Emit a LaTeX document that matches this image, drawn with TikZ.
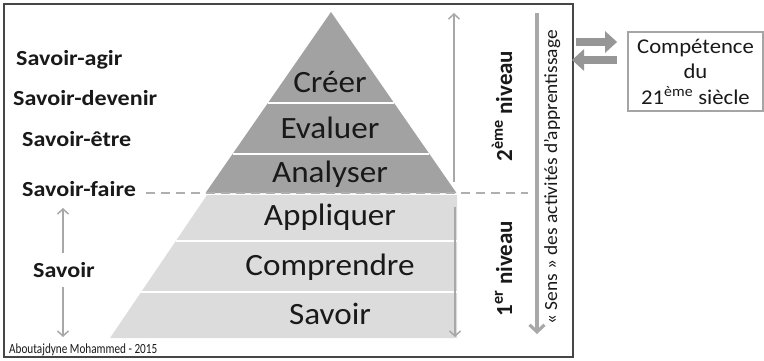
\documentclass[tikz,border=0pt]{standalone}
\usepackage{fontspec}
\setmainfont{Carlito}
\newfontfamily\pyrfont{Carlito}[FakeStretch=1.07]
\newfontfamily\lblfont{Carlito}[FakeStretch=1.12]
\newfontfamily\boxfont{Carlito}[FakeStretch=1.08]
\newfontfamily\sensfont{Carlito}[FakeStretch=1.05]
\newfontfamily\signfont{Carlito}[FakeStretch=0.8]
\usetikzlibrary{arrows.meta,calc}

\definecolor{upperfill}{RGB}{162,162,162}
\definecolor{lowerfill}{RGB}{220,220,220}
\definecolor{arrowgray}{RGB}{168,168,168}
\definecolor{fatgray}{RGB}{150,150,150}
\definecolor{framegray}{RGB}{70,70,70}
\definecolor{boxgray}{RGB}{165,165,165}
\definecolor{dashgray}{RGB}{175,175,175}
\definecolor{ink}{RGB}{25,25,25}

\tikzset{
  level/.style={font=\pyrfont\fontsize{31}{31}\selectfont, text=ink, anchor=base, inner sep=0pt},
  skill/.style={font=\lblfont\bfseries\fontsize{21.5}{21.5}\selectfont, text=ink, anchor=base west, inner sep=0pt},
  tier/.style={font=\bfseries\fontsize{23}{23}\selectfont, text=ink, rotate=90, anchor=base, inner sep=0pt},
  thinarrow/.style={draw=arrowgray, line width=1.5pt, -{Straight Barb[length=5pt,width=11pt]}},
  sensarrow/.style={draw=arrowgray, line width=3.2pt, -{Straight Barb[length=7pt,width=15pt]}},
  fatarrow/.style={draw=fatgray, line width=8.5pt, -{Triangle[width=21pt,length=12pt]}},
  sepline/.style={draw=white, line width=2pt},
  dashline/.style={draw=dashgray, line width=2pt, dash pattern=on 9pt off 6pt}
}

\begin{document}
\begin{tikzpicture}[x=1pt,y=-1pt]
\useasboundingbox (0,0) rectangle (764,360);

% outer frame
\node[draw=framegray, line width=2pt, minimum width=569pt, minimum height=353pt, inner sep=0pt] (frame) at (288.5,180.5) {};

% pyramid: upper (second level) and lower (first level) parts
\fill[upperfill] (331,12) -- (456.5,193) -- (205.5,193) -- cycle;
\draw[sepline] (268.2,103) -- (393.8,103);
\draw[sepline] (233.0,154) -- (429.0,154);
\fill[lowerfill] (207,195) -- (457,195) -- (457,338) -- (110,338) -- cycle;
\draw[sepline] (175.8,241) -- (457,241);
\draw[sepline] (141.2,292) -- (457,292);

% pyramid levels
\node[level] (creer) at (330,92) {Créer};
\node[level] (evaluer) at (330,138) {Evaluer};
\node[level] (analyser) at (330,182) {Analyser};
\node[level] (appliquer) at (330,225) {Appliquer};
\node[level] (comprendre) at (330,275) {Comprendre};
\node[level] (savoirlvl) at (330,324) {Savoir};

% skills on the left
\node[skill] (agir) at (16,65) {Savoir-agir};
\node[skill] (devenir) at (13,105) {Savoir-devenir};
\node[skill] (etre) at (22,146.5) {Savoir-être};
\node[skill] (faire) at (22,196.5) {Savoir-faire};
\node[skill] (savoir) at (33,277) {Savoir};

% boundary between the two levels
\coordinate (dashend) at (528,193);
\draw[dashline, shorten <=10pt] (faire.east |- dashend) -- (dashend);

% range of "Savoir"
\coordinate (svtop) at (63,208);
\coordinate (svbot) at (63,337);
\draw[thinarrow, shorten <=9pt] (savoir.north -| svtop) -- (svtop);
\draw[thinarrow, shorten <=10pt] (savoir.south -| svbot) -- (svbot);

% level extents on the right of the pyramid
\coordinate (upA) at (454,182);
\coordinate (upB) at (454,13);
\coordinate (dnA) at (455,207);
\coordinate (dnB) at (455,337);
\draw[thinarrow] (upA) -- (upB);
\draw[thinarrow] (dnA) -- (dnB);

\node[tier] (lvl2) at (512,106) {2\textsuperscript{ème} niveau};
\node[tier] (lvl1) at (512,268.5) {1\textsuperscript{er} niveau};

% direction of the learning activities
\coordinate (sensA) at (537,13);
\coordinate (sensB) at (537,334);
\draw[sensarrow] (sensA) -- (sensB);
\node[rotate=90, anchor=base, inner sep=0pt, text=ink, font=\sensfont\fontsize{18.5}{18.5}\selectfont] (sens) at (557,177.5) {« Sens » des activités d’apprentissage};

% 21st century competence
\node[draw=boxgray, line width=1.8pt, minimum width=135pt, minimum height=79pt, inner sep=0pt, align=center, text=ink, font=\boxfont\fontsize{21}{25.5}\selectfont] (comp) at (695.5,71.5) {Compétence\\du\\21\textsuperscript{ème} siècle};

\draw[fatarrow] ($(frame.east |- comp.west)+(2,-29.5)$) -- ($(comp.west)+(-10,-29.5)$);
\draw[fatarrow] ($(comp.west)+(-10,-11.5)$) -- ($(frame.east |- comp.west)+(-2,-11.5)$);

% signature
\node[anchor=base west, inner sep=0pt, text=ink, font=\signfont\fontsize{14}{14}\selectfont] (sign) at (9,353) {Aboutajdyne Mohammed - 2015};
\end{tikzpicture}
\end{document}
